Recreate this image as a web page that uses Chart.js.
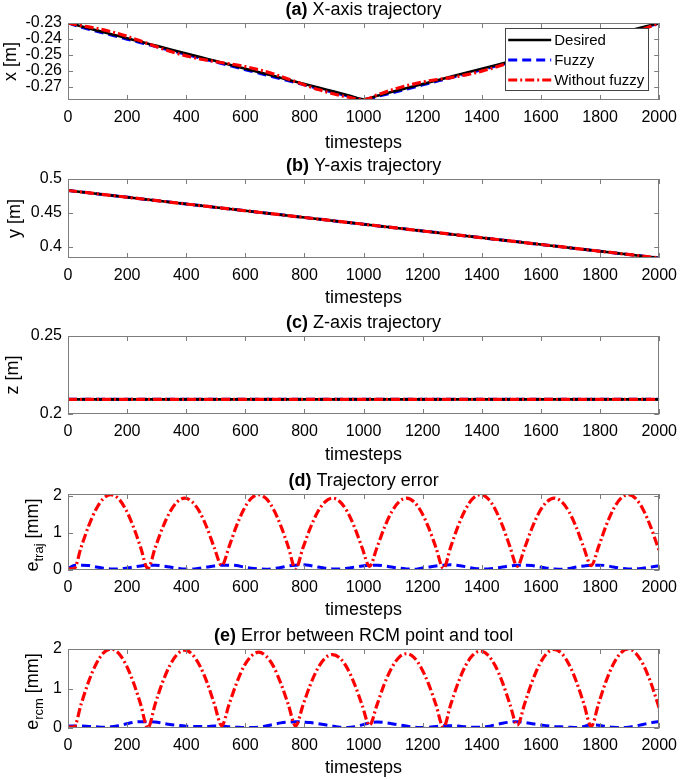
<!DOCTYPE html>
<html lang="en">
<head>
<meta charset="UTF-8">
<title>Trajectory tracking with and without fuzzy</title>
<script src="https://cdn.jsdelivr.net/npm/chart.js"></script>
<style>
  body { margin: 0; background: #fff; width: 685px; height: 780px; overflow: hidden; position: relative; }
  canvas { position: absolute; left: 0; }
</style>
</head>
<body>
<canvas id="chartA" width="685" height="155" style="top:0px"></canvas>
<canvas id="chartB" width="685" height="157" style="top:156px"></canvas>
<canvas id="chartC" width="685" height="156" style="top:313px"></canvas>
<canvas id="chartD" width="685" height="155" style="top:470px"></canvas>
<canvas id="chartE" width="685" height="154" style="top:626px"></canvas>
<script>
const seriesNames = ['Desired', 'Fuzzy', 'Without fuzzy'];

// tick labels
const stepTicks = [0, 200, 400, 600, 800, 1000, 1200, 1400, 1600, 1800, 2000];
const xPosTicks = [-0.27, -0.26, -0.25, -0.24, -0.23];
const yPosTicks = [0.4, 0.45, 0.5];
const zPosTicks = [0.2, 0.25];
const errTicks = [0, 1, 2];

// (a) X-axis trajectory
const stepsA = [0, 50, 100, 150, 200, 250, 300, 350, 400, 450, 500, 550, 600, 650, 700, 750, 800, 850, 900, 950,
  1000, 1050, 1100, 1150, 1200, 1250, 1300, 1350, 1400, 1450, 1500, 1550, 1600, 1650, 1700, 1750, 1800, 1850, 1900, 1950, 2000];
const xDesired = [-0.2300, -0.2324, -0.2348, -0.2372, -0.2396, -0.2420, -0.2444, -0.2468, -0.2492, -0.2516, -0.2540,
  -0.2564, -0.2588, -0.2612, -0.2636, -0.2660, -0.2684, -0.2708, -0.2732, -0.2756, -0.2780,
  -0.2756, -0.2732, -0.2708, -0.2684, -0.2660, -0.2636, -0.2612, -0.2588, -0.2564, -0.2540,
  -0.2516, -0.2492, -0.2468, -0.2444, -0.2420, -0.2396, -0.2372, -0.2348, -0.2324, -0.2300];
const xFuzzy = [-0.2300, -0.2329, -0.2354, -0.2378, -0.2402, -0.2426, -0.2450, -0.2474, -0.2498, -0.2522, -0.2546,
  -0.2570, -0.2594, -0.2618, -0.2642, -0.2666, -0.2690, -0.2714, -0.2738, -0.2761, -0.2782,
  -0.2761, -0.2738, -0.2714, -0.2690, -0.2666, -0.2642, -0.2618, -0.2594, -0.2570, -0.2546,
  -0.2522, -0.2498, -0.2474, -0.2450, -0.2426, -0.2402, -0.2378, -0.2354, -0.2329, -0.2300];
const xWithout = [-0.2300, -0.2318, -0.2335, -0.2357, -0.2384, -0.2416, -0.2450, -0.2481, -0.2507, -0.2528, -0.2544,
  -0.2558, -0.2575, -0.2597, -0.2624, -0.2656, -0.2690, -0.2721, -0.2747, -0.2768, -0.2782,
  -0.2750, -0.2719, -0.2693, -0.2672, -0.2656, -0.2642, -0.2625, -0.2603, -0.2576, -0.2544,
  -0.2510, -0.2479, -0.2453, -0.2432, -0.2416, -0.2402, -0.2385, -0.2363, -0.2336, -0.2300];

// (b) Y-axis and (c) Z-axis trajectory
const stepsBC = [0, 1000, 2000];
const yDesired = [0.483, 0.433, 0.383];
const yFuzzy = [0.483, 0.433, 0.383];
const yWithout = [0.483, 0.433, 0.383];
const zDesired = [0.2094, 0.2094, 0.2094];
const zFuzzy = [0.2094, 0.2094, 0.2094];
const zWithout = [0.2094, 0.2094, 0.2094];

// (d) trajectory error and (e) RCM error, in mm
const stepsErr = [0,
  20, 45, 70, 95, 120, 145, 170, 195, 220, 245,
  270, 295, 320, 345, 370, 395, 420, 445, 470, 495,
  520, 545, 570, 595, 620, 645, 670, 695, 720, 745,
  770, 795, 820, 845, 870, 895, 920, 945, 970, 995,
  1020, 1045, 1070, 1095, 1120, 1145, 1170, 1195, 1220, 1245,
  1270, 1295, 1320, 1345, 1370, 1395, 1420, 1445, 1470, 1495,
  1520, 1545, 1570, 1595, 1620, 1645, 1670, 1695, 1720, 1745,
  1770, 1795, 1820, 1845, 1870, 1895, 1920, 1945, 1970, 1995,
  2000];
const trajFuzzy = [0.03,
  0.12, 0.13, 0.12, 0.08, 0.05, 0.03, 0.03, 0.05, 0.08, 0.11,
  0.13, 0.13, 0.11, 0.08, 0.05, 0.03, 0.03, 0.05, 0.08, 0.11,
  0.13, 0.13, 0.12, 0.08, 0.05, 0.03, 0.02, 0.04, 0.07, 0.11,
  0.13, 0.14, 0.12, 0.08, 0.05, 0.03, 0.03, 0.05, 0.08, 0.11,
  0.13, 0.13, 0.11, 0.08, 0.05, 0.03, 0.02, 0.05, 0.08, 0.11,
  0.13, 0.14, 0.12, 0.09, 0.05, 0.03, 0.03, 0.05, 0.08, 0.11,
  0.13, 0.13, 0.12, 0.08, 0.05, 0.03, 0.02, 0.04, 0.08, 0.11,
  0.13, 0.13, 0.12, 0.08, 0.05, 0.03, 0.03, 0.05, 0.08, 0.11,
  0.12];
const trajWithout = [0.03,
  0.03, 0.63, 1.19, 1.64, 1.93, 2.03, 1.93, 1.64, 1.19, 0.63,
  0.04, 0.60, 1.14, 1.57, 1.84, 1.94, 1.84, 1.57, 1.14, 0.60,
  0.12, 0.63, 1.19, 1.64, 1.93, 2.03, 1.93, 1.64, 1.19, 0.63,
  0.03, 0.60, 1.14, 1.57, 1.84, 1.94, 1.84, 1.57, 1.14, 0.60,
  0.10, 0.60, 1.14, 1.57, 1.84, 1.94, 1.84, 1.57, 1.14, 0.60,
  0.04, 0.63, 1.19, 1.64, 1.93, 2.03, 1.93, 1.64, 1.19, 0.63,
  0.10, 0.60, 1.14, 1.57, 1.84, 1.94, 1.84, 1.57, 1.14, 0.60,
  0.12, 0.63, 1.19, 1.64, 1.93, 2.03, 1.93, 1.64, 1.19, 0.63,
  0.52];
const rcmFuzzy = [0.05,
  0.05, 0.05, 0.04, 0.03, 0.02, 0.03, 0.06, 0.10, 0.14, 0.16,
  0.16, 0.15, 0.12, 0.09, 0.07, 0.05, 0.04, 0.04, 0.04, 0.05,
  0.05, 0.03, 0.02, 0.01, 0.01, 0.02, 0.05, 0.09, 0.13, 0.15,
  0.16, 0.15, 0.14, 0.11, 0.08, 0.05, 0.02, 0.01, 0.03, 0.08,
  0.13, 0.15, 0.14, 0.11, 0.08, 0.05, 0.02, 0.01, 0.02, 0.04,
  0.06, 0.06, 0.05, 0.03, 0.02, 0.02, 0.04, 0.08, 0.12, 0.15,
  0.16, 0.14, 0.11, 0.08, 0.06, 0.04, 0.03, 0.02, 0.01, 0.04,
  0.08, 0.07, 0.04, 0.02, 0.01, 0.02, 0.05, 0.09, 0.13, 0.16,
  0.16];
const rcmWithout = [0.02,
  0.02, 0.62, 1.18, 1.62, 1.90, 2.00, 1.90, 1.62, 1.18, 0.62,
  0.00, 0.61, 1.16, 1.59, 1.87, 1.97, 1.87, 1.59, 1.16, 0.61,
  0.06, 0.60, 1.13, 1.56, 1.82, 1.92, 1.82, 1.56, 1.13, 0.60,
  0.05, 0.58, 1.10, 1.51, 1.77, 1.86, 1.77, 1.51, 1.10, 0.58,
  0.07, 0.58, 1.11, 1.52, 1.79, 1.88, 1.79, 1.52, 1.11, 0.58,
  0.02, 0.60, 1.15, 1.58, 1.85, 1.95, 1.85, 1.58, 1.15, 0.60,
  0.07, 0.62, 1.17, 1.61, 1.89, 1.99, 1.89, 1.61, 1.17, 0.62,
  0.04, 0.62, 1.18, 1.62, 1.90, 2.00, 1.90, 1.62, 1.18, 0.62,
  0.50];

const FONT = "'Liberation Sans', Arial, Helvetica, sans-serif";
Chart.defaults.font.family = FONT;
Chart.defaults.color = '#000';

const styleDesired = { borderColor: '#000000', borderWidth: 2.6, borderDash: [] };
const styleFuzzy = { borderColor: '#0000ff', borderWidth: 3, borderDash: [9, 5] };
const styleWithout = { borderColor: '#ff0000', borderWidth: 3.2, borderDash: [9, 3, 2, 3] };

function lineSet(label, xs, ys, style, order) {
  return Object.assign({
    label: label,
    data: xs.map((x, i) => ({ x: x, y: ys[i] })),
    pointRadius: 0,
    fill: false,
    order: order,
    cubicInterpolationMode: 'monotone'
  }, style);
}

// matlab style box with ticks pointing inwards
const frame = {
  id: 'frame',
  afterDatasetsDraw(chart) {
    const { ctx, chartArea: a, scales: { x, y } } = chart;
    ctx.save();
    ctx.strokeStyle = '#7d7d7d';
    ctx.lineWidth = 1;
    ctx.beginPath();
    x.ticks.forEach(t => {
      const px = Math.round(x.getPixelForValue(t.value)) + 0.5;
      ctx.moveTo(px, a.bottom); ctx.lineTo(px, a.bottom - 5);
      ctx.moveTo(px, a.top); ctx.lineTo(px, a.top + 5);
    });
    y.ticks.forEach(t => {
      const py = Math.round(y.getPixelForValue(t.value)) + 0.5;
      ctx.moveTo(a.left, py); ctx.lineTo(a.left + 5, py);
      ctx.moveTo(a.right, py); ctx.lineTo(a.right - 5, py);
    });
    ctx.stroke();
    ctx.strokeRect(Math.round(a.left) + 0.5, Math.round(a.top) + 0.5, Math.round(a.width) - 1, Math.round(a.height) - 1);
    ctx.restore();
  }
};

// "(a)" in bold followed by normal text
const panelTitle = {
  id: 'panelTitle',
  afterDraw(chart, args, opts) {
    const { ctx, chartArea: a } = chart;
    const bold = 'bold 18px ' + FONT, normal = '18px ' + FONT;
    ctx.save();
    ctx.font = bold;
    const w1 = ctx.measureText(opts.tag).width;
    ctx.font = normal;
    const w2 = ctx.measureText(opts.text).width;
    const x = (a.left + a.right) / 2 - (w1 + w2) / 2;
    const y = a.top - 13;
    ctx.textBaseline = 'middle';
    ctx.fillStyle = '#000';
    ctx.font = bold;
    ctx.fillText(opts.tag, x, y);
    ctx.font = normal;
    ctx.fillText(opts.text, x + w1, y);
    ctx.restore();
  }
};

// y label with a subscript, e.g. e_traj [mm]
const subLabel = {
  id: 'subLabel',
  afterDraw(chart, args, opts) {
    if (!opts.main) return;
    const { ctx, chartArea: a } = chart;
    const big = '18px ' + FONT, small = '13px ' + FONT;
    ctx.save();
    ctx.fillStyle = '#000';
    ctx.font = big;
    const wm = ctx.measureText(opts.main).width;
    const wr = ctx.measureText(opts.rest).width;
    ctx.font = small;
    const ws = ctx.measureText(opts.sub).width;
    ctx.translate(0, (a.top + a.bottom) / 2 + 3);
    ctx.rotate(-Math.PI / 2);
    const sx = -(wm + ws + wr) / 2;
    ctx.font = big;
    ctx.fillText(opts.main, sx, 38);
    ctx.font = small;
    ctx.fillText(opts.sub, sx + wm, 43);
    ctx.font = big;
    ctx.fillText(opts.rest, sx + wm + ws, 38);
    ctx.restore();
  }
};

// legend box inside the top right corner of (a)
const boxLegend = {
  id: 'boxLegend',
  afterDraw(chart) {
    const { ctx, chartArea: a } = chart;
    const w = 143, h = 62;
    const left = a.right - 11 - w, top = a.top + 5;
    ctx.save();
    ctx.fillStyle = '#fff';
    ctx.fillRect(left, top, w, h);
    ctx.strokeStyle = '#444';
    ctx.lineWidth = 1;
    ctx.strokeRect(Math.round(left) + 0.5, Math.round(top) + 0.5, w, h);
    ctx.font = '15px ' + FONT;
    ctx.textBaseline = 'middle';
    const items = chart.data.datasets.slice().sort((p, q) => seriesNames.indexOf(p.label) - seriesNames.indexOf(q.label));
    items.forEach((ds, i) => {
      const cy = top + 12 + i * 20;
      ctx.strokeStyle = ds.borderColor;
      ctx.lineWidth = ds.borderWidth;
      ctx.setLineDash(ds.borderDash);
      ctx.beginPath();
      ctx.moveTo(left + 3, cy);
      ctx.lineTo(left + 46, cy);
      ctx.stroke();
      ctx.setLineDash([]);
      ctx.fillStyle = '#000';
      ctx.fillText(ds.label, left + 49, cy + 1);
    });
    ctx.restore();
  }
};

function makeChart(id, o) {
  const ctx = document.getElementById(id).getContext('2d');
  const H = ctx.canvas.height;
  const plugins = [frame, panelTitle, subLabel];
  if (o.legend) plugins.push(boxLegend);
  return new Chart(ctx, {
    type: 'line',
    data: { datasets: o.datasets },
    options: {
      responsive: false,
      animation: false,
      events: [],
      layout: { padding: { top: o.padTop, right: 19, left: 0, bottom: 0 } },
      plugins: {
        legend: { display: false },
        tooltip: { enabled: false },
        panelTitle: { tag: o.tag, text: o.title },
        subLabel: o.subLabel || {}
      },
      scales: {
        x: {
          type: 'linear',
          min: 0,
          max: 2000,
          grid: { display: false, drawTicks: false },
          border: { display: false },
          afterBuildTicks: s => { s.ticks = stepTicks.map(v => ({ value: v })); },
          afterFit: s => { s.height = H - o.padTop - o.plotH; },
          ticks: { autoSkip: false, maxRotation: 0, padding: 8, font: { size: 16 }, callback: v => String(v) },
          title: { display: true, text: 'timesteps', font: { size: 18 }, padding: { top: 0, bottom: o.xTitlePad } }
        },
        y: {
          type: 'linear',
          min: o.yMin,
          max: o.yMax,
          grid: { display: false, drawTicks: false },
          border: { display: false },
          afterBuildTicks: s => { s.ticks = o.yTicks.map(v => ({ value: v })); },
          afterFit: s => { s.width = 68; },
          ticks: { autoSkip: false, padding: 6, font: { size: 16 }, callback: v => String(v) },
          title: { display: !!o.yTitle, text: o.yTitle || '', font: { size: 18 }, padding: { top: o.yTitlePad || 0, bottom: 0 } }
        }
      }
    },
    plugins: plugins
  });
}

makeChart('chartA', {
  tag: '(a)', title: ' X-axis trajectory', legend: true,
  padTop: 23, plotH: 77, xTitlePad: 1.2, yTitle: 'x [m]', yTitlePad: 0,
  yMin: -0.2785, yMax: -0.23, yTicks: xPosTicks,
  datasets: [
    lineSet(seriesNames[0], stepsA, xDesired, styleDesired, 2),
    lineSet(seriesNames[1], stepsA, xFuzzy, styleFuzzy, 3),
    lineSet(seriesNames[2], stepsA, xWithout, styleWithout, 1)
  ]
});

makeChart('chartB', {
  tag: '(b)', title: ' Y-axis trajectory',
  padTop: 23, plotH: 79, xTitlePad: 4.2, yTitle: 'y [m]', yTitlePad: 4,
  yMin: 0.383, yMax: 0.5, yTicks: yPosTicks,
  datasets: [
    lineSet(seriesNames[0], stepsBC, yDesired, styleDesired, 2),
    lineSet(seriesNames[1], stepsBC, yFuzzy, styleFuzzy, 3),
    lineSet(seriesNames[2], stepsBC, yWithout, styleWithout, 1)
  ]
});

makeChart('chartC', {
  tag: '(c)', title: ' Z-axis trajectory',
  padTop: 23, plotH: 78, xTitlePad: 3.2, yTitle: 'z [m]', yTitlePad: 2,
  yMin: 0.2, yMax: 0.25, yTicks: zPosTicks,
  datasets: [
    lineSet(seriesNames[0], stepsBC, zDesired, styleDesired, 2),
    lineSet(seriesNames[1], stepsBC, zFuzzy, styleFuzzy, 3),
    lineSet(seriesNames[2], stepsBC, zWithout, styleWithout, 1)
  ]
});

makeChart('chartD', {
  tag: '(d)', title: ' Trajectory error',
  padTop: 24, plotH: 76, xTitlePad: 4.2,
  subLabel: { main: 'e', sub: 'traj', rest: ' [mm]' },
  yMin: 0, yMax: 2.05, yTicks: errTicks,
  datasets: [
    lineSet(seriesNames[1], stepsErr, trajFuzzy, styleFuzzy, 2),
    lineSet(seriesNames[2], stepsErr, trajWithout, styleWithout, 1)
  ]
});

makeChart('chartE', {
  tag: '(e)', title: ' Error between RCM point and tool',
  padTop: 23, plotH: 79, xTitlePad: 1.2,
  subLabel: { main: 'e', sub: 'rcm', rest: ' [mm]' },
  yMin: 0, yMax: 2.0, yTicks: errTicks,
  datasets: [
    lineSet(seriesNames[1], stepsErr, rcmFuzzy, styleFuzzy, 2),
    lineSet(seriesNames[2], stepsErr, rcmWithout, styleWithout, 1)
  ]
});
</script>
</body>
</html>
